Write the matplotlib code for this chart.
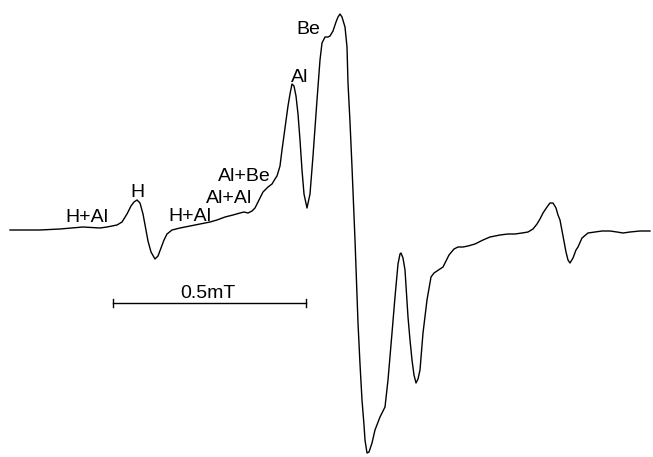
import matplotlib.pyplot as plt

# EPR spectrum trace, field position (arb.) and derivative signal (arb.)
field = [10, 40, 60, 83, 100, 107, 117, 122, 127, 131, 134, 137, 140, 143, 146, 148,
         151, 155, 158, 161, 164, 167, 172, 180, 190, 200, 210, 217, 225, 233, 240,
         244, 248, 252, 255, 259, 263, 268, 272, 275, 277, 280, 282, 285, 288, 290,
         292, 294, 296, 298, 300, 302, 304, 307, 310, 313, 317, 320, 322, 325, 328,
         330, 333, 336, 338, 340, 342, 345, 347, 348, 350, 352, 355, 358, 360, 362,
         364, 365, 367, 369, 372, 375, 380, 385, 388, 390, 392, 395, 398, 400, 401,
         403, 405, 408, 410, 412, 414, 416, 418, 420, 423, 427, 431, 434, 437, 443,
         449, 454, 458, 463, 468, 475, 483, 490, 500, 508, 515, 522,
         528, 533, 537, 540, 543, 547, 550, 553, 556, 558, 560, 563, 566, 568, 570,
         573, 576, 578, 582, 588, 595, 602, 610, 617, 623, 630, 640, 650]
signal = [2, 2, 3, 5, 4, 5, 7, 10, 18, 26, 30, 32, 29, 18, 2, -9,
          -20, -27, -24, -16, -8, -2, 2, 4, 6, 8, 10, 12, 15, 17, 19,
          20, 19, 21, 24, 32, 40, 45, 48, 53, 56, 66, 82, 104, 126, 138,
          148, 146, 136, 118, 92, 62, 38, 24, 38, 76, 132, 172, 189, 195, 195,
          196, 201, 210, 215, 218, 215, 205, 185, 149, 110, 65, -8, -91, -132, -168,
          -193, -208, -221, -220, -211, -198, -185, -175, -148, -125, -101, -65, -32, -22, -21,
          -26, -38, -85, -108, -128, -143, -151, -147, -138, -101, -68, -45, -41, -39, -35,
          -23, -17, -15, -15, -14, -12, -8, -5, -3, -2, -2, -1,
          0, 3, 8, 13, 19, 25, 29, 29, 24, 17, 12, -4, -20, -28, -31,
          -26, -18, -15, -6, -1, 0, 1, 1, 0, -1, 0, 1, 1]

# peak labels (text, field position, signal level of text baseline)
label_text = ["H+Al", "H", "H+Al", "Al+Al", "Al+Be", "Al", "Be"]
label_x = [87, 137, 190, 229, 244, 300, 308]
label_y = [10, 35, 11, 29, 51, 150, 198]

baseline = 232
fig = plt.figure(figsize=(6.53, 4.57), dpi=100)
ax = fig.add_axes([0, 0, 1, 1])
ax.set_xlim(0, 653)
ax.set_ylim(baseline - 457, baseline)
ax.set_axis_off()

ax.plot(field, signal, color='black', lw=1.0, solid_joinstyle='round')

for t, x, y in zip(label_text, label_x, label_y):
    ax.text(x, y, t, ha='center', va='baseline', fontsize=14, family='Liberation Sans')

# scale bar
bar_y = baseline - 303
ax.plot([113, 306], [bar_y, bar_y], color='black', lw=1)
ax.plot([113, 113], [bar_y - 4, bar_y + 4], color='black', lw=1)
ax.plot([306, 306], [bar_y - 4, bar_y + 4], color='black', lw=1)
ax.text(208, baseline - 298, '0.5mT', ha='center', va='baseline', fontsize=14, family='Liberation Sans')

fig.savefig('out.png', dpi=100)
